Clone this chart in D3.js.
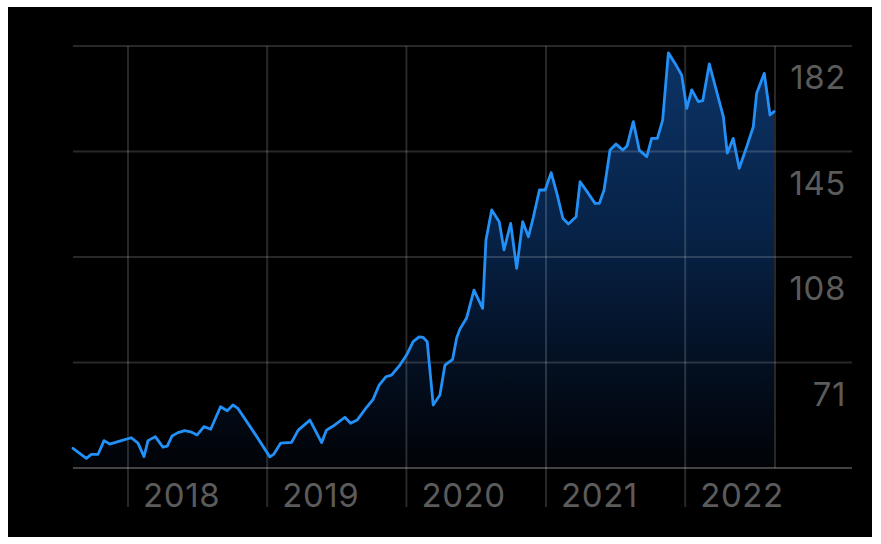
<!DOCTYPE html>
<html>
<head>
<meta charset="utf-8">
<script src="https://cdn.jsdelivr.net/npm/d3@7"></script>
<style>
  html, body { margin: 0; padding: 0; background: #ffffff; }
  svg { display: block; }
</style>
</head>
<body>
<svg id="chart" width="881" height="544"></svg>
<script>
// Weekly-ish closing prices, dates as decimal years
const decimalYears = [
  2017.605, 2017.701, 2017.737, 2017.785, 2017.828, 2017.869, 2017.905, 2017.952, 2018.024, 2018.072,
  2018.115, 2018.144, 2018.196, 2018.251, 2018.282, 2018.316, 2018.359, 2018.407, 2018.450, 2018.497,
  2018.546, 2018.594, 2018.665, 2018.713, 2018.754, 2018.790, 2018.905, 2019.019, 2019.048, 2019.096,
  2019.175, 2019.223, 2019.307, 2019.391, 2019.426, 2019.486, 2019.558, 2019.599, 2019.646, 2019.714,
  2019.761, 2019.804, 2019.852, 2019.893, 2019.953, 2020.001, 2020.048, 2020.091, 2020.120, 2020.149,
  2020.192, 2020.240, 2020.276, 2020.331, 2020.360, 2020.383, 2020.431, 2020.484, 2020.546, 2020.570,
  2020.611, 2020.665, 2020.699, 2020.747, 2020.790, 2020.833, 2020.874, 2020.910, 2020.953, 2020.994,
  2021.037, 2021.078, 2021.121, 2021.161, 2021.216, 2021.245, 2021.304, 2021.352, 2021.383, 2021.417,
  2021.460, 2021.503, 2021.553, 2021.582, 2021.627, 2021.670, 2021.724, 2021.759, 2021.800, 2021.838,
  2021.879, 2021.927, 2021.975, 2022.011, 2022.047, 2022.094, 2022.126, 2022.173, 2022.226, 2022.274,
  2022.302, 2022.345, 2022.388, 2022.442, 2022.489, 2022.513, 2022.568, 2022.609, 2022.638
];
const prices = [
  40.9, 37.4, 38.8, 38.8, 43.6, 42.4, 42.9, 43.6, 44.6, 42.7,
  38.0, 43.6, 45.0, 41.3, 41.7, 45.2, 46.4, 47.1, 46.7, 45.6,
  48.5, 47.6, 55.5, 54.1, 56.1, 54.9, 46.5, 37.9, 38.9, 42.7,
  43.0, 47.3, 50.8, 42.9, 47.3, 49.1, 51.8, 49.7, 50.8, 55.3,
  58.1, 63.1, 66.0, 66.6, 70.1, 73.6, 78.3, 80.0, 79.8, 78.3,
  56.1, 59.6, 70.1, 72.1, 79.6, 82.7, 86.6, 96.4, 90.0, 114.0,
  124.5, 120.4, 110.5, 119.8, 104.0, 120.4, 115.1, 122.1, 131.5, 131.5,
  137.6, 130.3, 121.6, 119.6, 122.1, 134.4, 130.3, 126.8, 126.8, 131.5,
  145.5, 147.6, 145.5, 146.9, 155.5, 145.5, 143.2, 149.6, 149.6, 156.0,
  179.6, 175.9, 171.8, 160.1, 166.6, 162.5, 162.8, 175.7, 166.0, 157.2,
  144.4, 149.6, 139.1, 146.7, 153.7, 165.4, 172.4, 157.8, 159.0
];
const rangeYears = [2017.605, 2022.645];   // visible time window
const priceDomain = [34, 182];
const priceTicks = [182, 145, 108, 71];

// decimal year -> Date
function fromDecimalYear(y) {
  const yr = Math.floor(y);
  const start = new Date(yr, 0, 1).getTime();
  const end = new Date(yr + 1, 0, 1).getTime();
  return new Date(start + (y - yr) * (end - start));
}

const data = decimalYears.map((y, i) => ({ date: fromDecimalYear(y), value: prices[i] }));

const svg = d3.select("#chart");

// dark panel
svg.append("rect")
  .attr("x", 8).attr("y", 7).attr("width", 864).attr("height", 530)
  .attr("fill", "#000000");

const plotLeft = 73, plotRight = 775, gridRight = 852;

const x = d3.scaleTime()
  .domain(rangeYears.map(fromDecimalYear))
  .range([plotLeft, plotRight]);

const y = d3.scaleLinear()
  .domain(priceDomain)
  .range([468, 46]);

// area gradient
const defs = svg.append("defs");
const grad = defs.append("linearGradient")
  .attr("id", "areaFill")
  .attr("gradientUnits", "userSpaceOnUse")
  .attr("x1", 0).attr("x2", 0)
  .attr("y1", y(priceDomain[1])).attr("y2", y(priceDomain[0]));
grad.append("stop").attr("offset", "0%").attr("stop-color", "#0c3468");
grad.append("stop").attr("offset", "45%").attr("stop-color", "#072246");
grad.append("stop").attr("offset", "80%").attr("stop-color", "#030d1c");
grad.append("stop").attr("offset", "100%").attr("stop-color", "#010307");

const area = d3.area()
  .x(d => x(d.date))
  .y0(y(priceDomain[0]))
  .y1(d => y(d.value));

svg.append("path")
  .datum(data)
  .attr("d", area)
  .attr("fill", "url(#areaFill)");

const gridColor = "rgba(255,255,255,0.155)";

// horizontal grid (price levels + baseline)
const hLevels = [priceDomain[0], ...priceTicks];
svg.append("g")
  .selectAll("line")
  .data(hLevels)
  .join("line")
  .attr("x1", plotLeft).attr("x2", gridRight)
  .attr("y1", d => y(d)).attr("y2", d => y(d))
  .attr("stroke", d => d === priceDomain[0] ? "rgba(255,255,255,0.26)" : gridColor)
  .attr("stroke-width", 2);

// year ticks
const yearTicks = x.ticks(d3.timeYear.every(1));
const yearFmt = d3.timeFormat("%Y");
svg.append("g")
  .selectAll("line")
  .data(yearTicks)
  .join("line")
  .attr("x1", d => x(d)).attr("x2", d => x(d))
  .attr("y1", y(priceDomain[1])).attr("y2", 507)
  .attr("stroke", gridColor)
  .attr("stroke-width", 2);

// right edge of plotted range
svg.append("line")
  .attr("x1", plotRight).attr("x2", plotRight)
  .attr("y1", y(priceDomain[1])).attr("y2", y(priceDomain[0]))
  .attr("stroke", gridColor)
  .attr("stroke-width", 2);

// price line
svg.append("path")
  .datum(data)
  .attr("d", d3.line().x(d => x(d.date)).y(d => y(d.value)))
  .attr("fill", "none")
  .attr("stroke", "#2390f7")
  .attr("stroke-width", 2.8)
  .attr("stroke-linejoin", "round")
  .attr("stroke-linecap", "round");

const labelFont = "Inter, 'Open Sans', sans-serif";
const labelColor = "#5b5b5b";

// price labels sit just below each level
svg.append("g")
  .selectAll("text")
  .data(priceTicks)
  .join("text")
  .attr("x", 846)
  .attr("y", d => y(d) + 43)
  .attr("text-anchor", "end")
  .attr("fill", labelColor)
  .attr("font-family", labelFont)
  .attr("font-size", 33)
  .attr("letter-spacing", 0.6)
  .text(d => d);

// year labels to the right of each tick
svg.append("g")
  .selectAll("text")
  .data(yearTicks)
  .join("text")
  .attr("x", d => x(d) + 15)
  .attr("y", 507)
  .attr("fill", labelColor)
  .attr("font-family", labelFont)
  .attr("font-size", 33)
  .attr("letter-spacing", 0.6)
  .text(d => yearFmt(d));
</script>
</body>
</html>
